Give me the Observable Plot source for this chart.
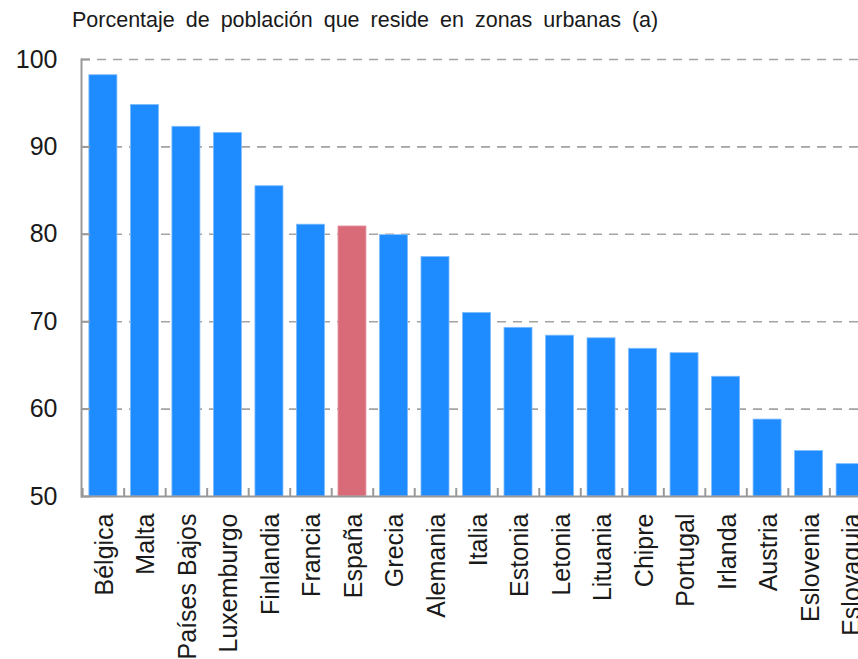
<!DOCTYPE html>
<html>
<head>
<meta charset="utf-8">
<script src="https://cdn.jsdelivr.net/npm/d3@7"></script>
<script src="https://cdn.jsdelivr.net/npm/@observablehq/plot@0.6"></script>
<style>
  html, body { margin: 0; padding: 0; background: #fff; overflow: hidden; }
  #wrap { position: relative; width: 858px; height: 659px; overflow: hidden; }
  #title { position: absolute; left: 72px; top: 10px; font-family: "Liberation Sans", Arial, sans-serif; font-size: 21.5px; line-height: 1; color: #1a1a1a; word-spacing: 5px; white-space: nowrap; }
  #chart { position: absolute; left: 0; top: 0; }
  #chart svg { max-width: none !important; }
  #chart g[aria-label="x-axis tick label"] text { font-size: 25px; }
  #chart g[aria-label="y-axis tick label"] text { font-size: 25px; }
</style>
</head>
<body>
<div id="wrap">
  <div id="chart"></div>
  <div id="title">Porcentaje de población que reside en zonas urbanas (a)</div>
</div>
<script>
const countries = ["Bélgica","Malta","Países Bajos","Luxemburgo","Finlandia","Francia","España","Grecia","Alemania","Italia","Estonia","Letonia","Lituania","Chipre","Portugal","Irlanda","Austria","Eslovenia","Eslovaquia"];
const values = [98.2, 94.8, 92.3, 91.6, 85.5, 81.1, 80.9, 79.9, 77.4, 71.0, 69.3, 68.4, 68.1, 66.9, 66.4, 63.7, 58.8, 55.2, 53.7];
const highlight = "España";
const yTicks = [50, 60, 70, 80, 90, 100];
const yMin = 50, yMax = 100;

const data = countries.map((c, i) => ({country: c, value: values[i], base: yMin}));

const W = 872, ML = 81;
const PI = 0.325, PO = 0.19;
const step = (W - ML) / (countries.length - PI + 2 * PO);
const font = "Liberation Sans, Arial, sans-serif";

const chart = Plot.plot({
  width: W,
  height: 659,
  marginLeft: ML,
  marginRight: 0,
  marginTop: 59,
  marginBottom: 163,
  style: {fontFamily: font, background: "#fff", color: "#1a1a1a", maxWidth: "none"},
  x: {domain: countries, paddingInner: PI, paddingOuter: PO, round: false, label: null},
  y: {domain: [yMin, yMax], ticks: yTicks, label: null},
  marks: [
    Plot.gridY(yTicks.filter(t => t > yMin), {stroke: "#a3a3a3", strokeOpacity: 1, strokeWidth: 1.6, strokeDasharray: "9,7"}),
    Plot.barY(data, {
      x: "country", y1: "base", y2: "value",
      fill: d => d.country === highlight ? "#d96b79" : "#1e8cff",
      stroke: d => d.country === highlight ? "#e6a0a8" : "#7fbcff",
      strokeWidth: 0.8
    }),
    Plot.frame({anchor: "left", stroke: "#999", strokeWidth: 2}),
    Plot.ruleY([yMin], {stroke: "#999", strokeWidth: 2}),
    Plot.axisY({ticks: yTicks, tickSize: -9, tickPadding: 33, fontSize: 25, stroke: "#999", strokeWidth: 2, label: null}),
    Plot.axisX({tickSize: -8, tickFormat: () => "", dx: -step / 2, stroke: "#999", strokeWidth: 2, label: null}),
    Plot.axisX({tickSize: 0, tickRotate: -90, tickPadding: 17, dx: 1.5, fontSize: 25, label: null})
  ]
});
document.getElementById("chart").appendChild(chart);
</script>
</body>
</html>
